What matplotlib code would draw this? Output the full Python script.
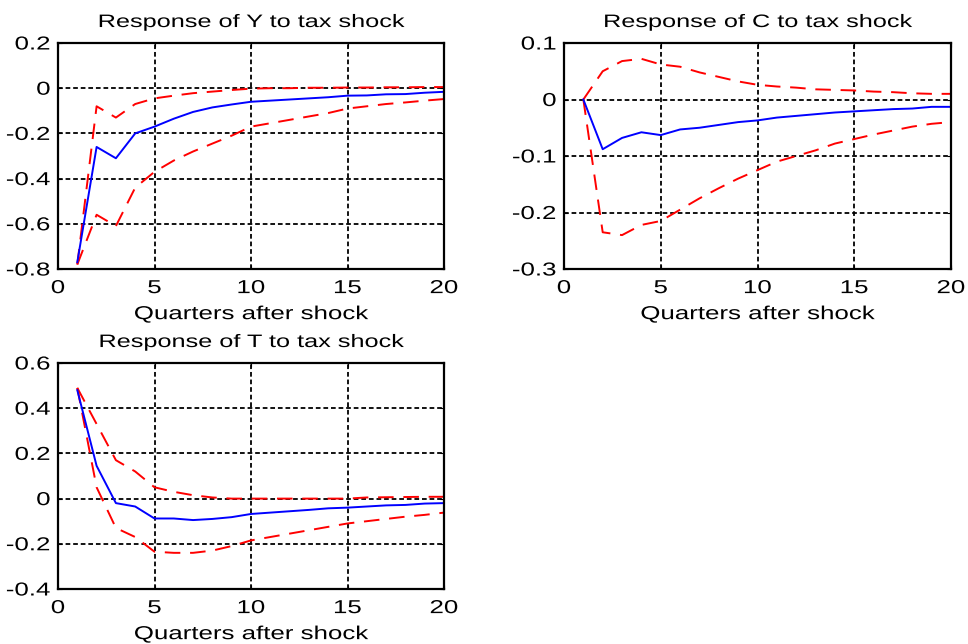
import matplotlib
matplotlib.use("Agg")
import matplotlib.pyplot as plt
from matplotlib import patheffects
from matplotlib.transforms import Affine2D

plt.rcParams['font.family'] = ['Liberation Sans', 'DejaVu Sans']

quarters = list(range(1, 21))

# Response of Y
y_mean = [-0.77, -0.26, -0.31, -0.20, -0.17, -0.135, -0.105, -0.085, -0.072, -0.060,
          -0.055, -0.050, -0.045, -0.040, -0.033, -0.032, -0.027, -0.026, -0.020, -0.016]
y_upper = [-0.78, -0.08, -0.13, -0.07, -0.045, -0.033, -0.022, -0.015, -0.008, -0.002,
           0.0, 0.0, 0.002, 0.002, 0.003, 0.003, 0.004, 0.004, 0.005, 0.005]
y_lower = [-0.78, -0.56, -0.61, -0.44, -0.37, -0.32, -0.28, -0.245, -0.21, -0.17,
           -0.155, -0.14, -0.125, -0.11, -0.09, -0.08, -0.07, -0.063, -0.055, -0.048]

# Response of C
c_mean = [0.0, -0.088, -0.068, -0.058, -0.063, -0.053, -0.050, -0.045, -0.040, -0.037,
          -0.032, -0.029, -0.026, -0.023, -0.021, -0.019, -0.017, -0.016, -0.013, -0.013]
c_upper = [0.0, 0.05, 0.068, 0.072, 0.062, 0.058, 0.048, 0.040, 0.032, 0.026,
           0.023, 0.021, 0.018, 0.017, 0.016, 0.014, 0.013, 0.011, 0.010, 0.010]
c_lower = [0.0, -0.235, -0.24, -0.222, -0.215, -0.195, -0.175, -0.157, -0.14, -0.125,
           -0.11, -0.10, -0.09, -0.078, -0.07, -0.062, -0.055, -0.048, -0.043, -0.040]

# Response of T
t_mean = [0.48, 0.145, -0.02, -0.035, -0.088, -0.088, -0.095, -0.09, -0.082, -0.068,
          -0.062, -0.056, -0.05, -0.043, -0.04, -0.035, -0.03, -0.028, -0.022, -0.02]
t_upper = [0.49, 0.33, 0.17, 0.12, 0.05, 0.03, 0.015, 0.005, 0.0, 0.0,
           0.0, 0.0, 0.0, 0.0, 0.0, 0.005, 0.006, 0.007, 0.008, 0.008]
t_lower = [0.49, 0.05, -0.13, -0.17, -0.235, -0.24, -0.24, -0.23, -0.21, -0.185,
           -0.17, -0.155, -0.14, -0.125, -0.11, -0.10, -0.09, -0.08, -0.072, -0.062]

panels = [
    ("Response of Y to tax shock", y_mean, y_upper, y_lower, (-0.8, 0.2), [-0.8, -0.6, -0.4, -0.2, 0, 0.2]),
    ("Response of C to tax shock", c_mean, c_upper, c_lower, (-0.3, 0.1), [-0.3, -0.2, -0.1, 0, 0.1]),
    ("Response of T to tax shock", t_mean, t_upper, t_lower, (-0.4, 0.6), [-0.4, -0.2, 0, 0.2, 0.4, 0.6]),
]


# the original uses a wide (horizontally stretched) font, so widen the glyphs
class Widen(patheffects.AbstractPathEffect):
    def __init__(self, sx=1.38, anchor='center'):
        super().__init__()
        self.sx = sx
        self.anchor = anchor

    def draw_path(self, renderer, gc, tpath, affine, rgbFace=None):
        ext = tpath.get_extents(affine)
        cx = ext.x1 if self.anchor == 'right' else 0.5 * (ext.x0 + ext.x1)
        extra = Affine2D().translate(-cx, 0).scale(self.sx, 1).translate(cx, 0)
        renderer.draw_path(gc, tpath, affine + extra, rgbFace)


fig = plt.figure(figsize=(9.68, 6.44), dpi=100)
W, H = 968.0, 644.0
boxes = [(58, 43, 444, 269), (564, 43, 951, 269), (58, 363, 444, 589)]

for (title, mean, upper, lower, ylim, yticks), (l, t, r, b) in zip(panels, boxes):
    ax = fig.add_axes([l / W, 1 - b / H, (r - l) / W, (b - t) / H])
    ax.plot(quarters, upper, color='red', lw=1.4, dashes=(8, 5))
    ax.plot(quarters, lower, color='red', lw=1.4, dashes=(8, 5))
    ax.plot(quarters, mean, color='blue', lw=1.4)
    ax.set_xlim(0, 20)
    ax.set_ylim(*ylim)
    ax.set_xticks([0, 5, 10, 15, 20])
    ax.set_yticks(yticks)
    ax.set_yticklabels(['0' if v == 0 else ('%g' % v) for v in yticks])
    ax.grid(True, color='black', linestyle=(0, (2.6, 1.6)), lw=1.3)
    ax.tick_params(direction='in', labelsize=13.5, length=3, top=True, right=True)
    ax.tick_params(axis='x', pad=8)
    ax.tick_params(axis='y', pad=5.5)
    for s in ax.spines.values():
        s.set_linewidth(1.6)
    ttl = ax.set_title(title, fontsize=13, pad=11.5)
    ttl.set_path_effects([Widen(1.4)])
    xl = ax.set_xlabel("Quarters after shock", fontsize=13.5, labelpad=6.5)
    xl.set_path_effects([Widen(1.38)])
    for lab in ax.get_xticklabels():
        lab.set_path_effects([Widen(1.38)])
    for lab in ax.get_yticklabels():
        lab.set_path_effects([Widen(1.38, 'right')])

fig.savefig("out.png", dpi=100)
